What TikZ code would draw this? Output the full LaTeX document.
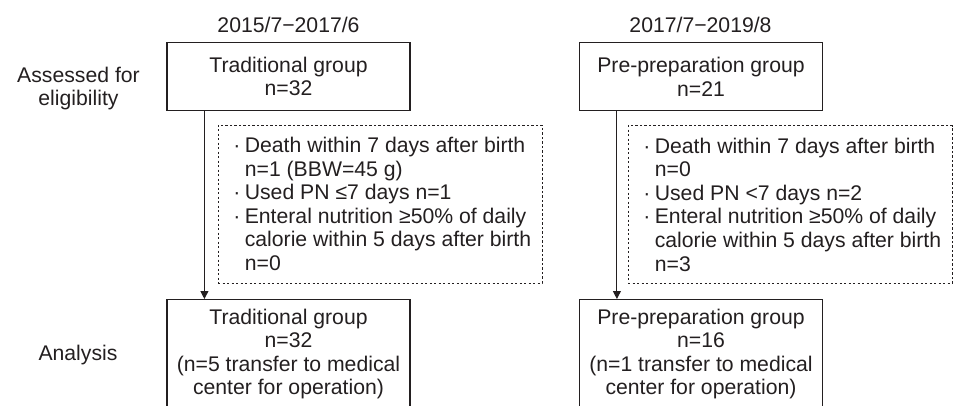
\documentclass[tikz,border=0pt]{standalone}
\usepackage{fontspec}
\setmainfont{Liberation Sans}
\usepackage{tikz}
\pgfdeclarelayer{background}
\pgfsetlayers{background,main}
\usetikzlibrary{arrows,arrows.meta,positioning}
\definecolor{ink}{RGB}{35,31,32}
\newcommand{\GroupBox}[4]% pos, name, height, text
{\node[draw=ink,line width=1.2pt,minimum width=243pt,minimum height=#3,align=center,anchor=north] (#2) at (#1) {#4};
}
\newcommand{\ExclBox}[3]% pos, name, text
{\node[draw=ink,line width=0.9pt,dash pattern=on 2.2pt off 2.3pt,minimum width=324pt,minimum height=158pt,align=left] (#2) at (#1) {#3};
}
\newcommand{\Flow}[2]%
{ \begin{pgfonlayer}{background}
    \draw[-{Triangle[length=8pt,width=8pt]},ink,line width=1.1pt] ([xshift=38pt]#1.south west) -- ([xshift=38pt]#2.north west);
  \end{pgfonlayer}}
\newcommand{\bul}{\makebox[16pt][c]{·}}
\newcommand{\ind}{\hspace*{16pt}}

\begin{document}
\begin{tikzpicture}[x=1pt,y=-1pt,font=\fontsize{21.2}{23.6}\selectfont,text=ink]
        \useasboundingbox (0,0) rectangle (955,405);
        \node (TradTime) at (288.5,25) {2015/7−2017/6};
        \node (PrepTime) at (700.5,25) {2017/7−2019/8};
        \node[align=center] (Assessed) at (78.5,88.5) {Assessed for\\eligibility};
        \node (Analysis) at (78,355) {Analysis};
        \GroupBox{288.5,42}{TradA}{68pt}{Traditional group\\n=32}
        \GroupBox{701,42}{PrepA}{68pt}{Pre-preparation group\\n=21}
        \ExclBox{380,204}{TradX}{\bul Death within 7 days after birth\\
          \ind n=1 (BBW=45 g)\\
          \bul Used PN ≤7 days n=1\\
          \bul Enteral nutrition ≥50\% of daily\\
          \ind calorie within 5 days after birth\\
          \ind n=0}
        \ExclBox{790,204.5}{PrepX}{\bul Death within 7 days after birth\\
          \ind n=0\\
          \bul Used PN <7 days n=2\\
          \bul Enteral nutrition ≥50\% of daily\\
          \ind calorie within 5 days after birth\\
          \ind n=3}
        \GroupBox{288.5,299}{TradB}{109pt}{Traditional group\\n=32\\(n=5 transfer to medical\\center for operation)}
        \GroupBox{701,299}{PrepB}{109pt}{Pre-preparation group\\n=16\\(n=1 transfer to medical\\center for operation)}
        \Flow{TradA}{TradB}
        \Flow{PrepA}{PrepB}
      \end{tikzpicture}
\end{document}
